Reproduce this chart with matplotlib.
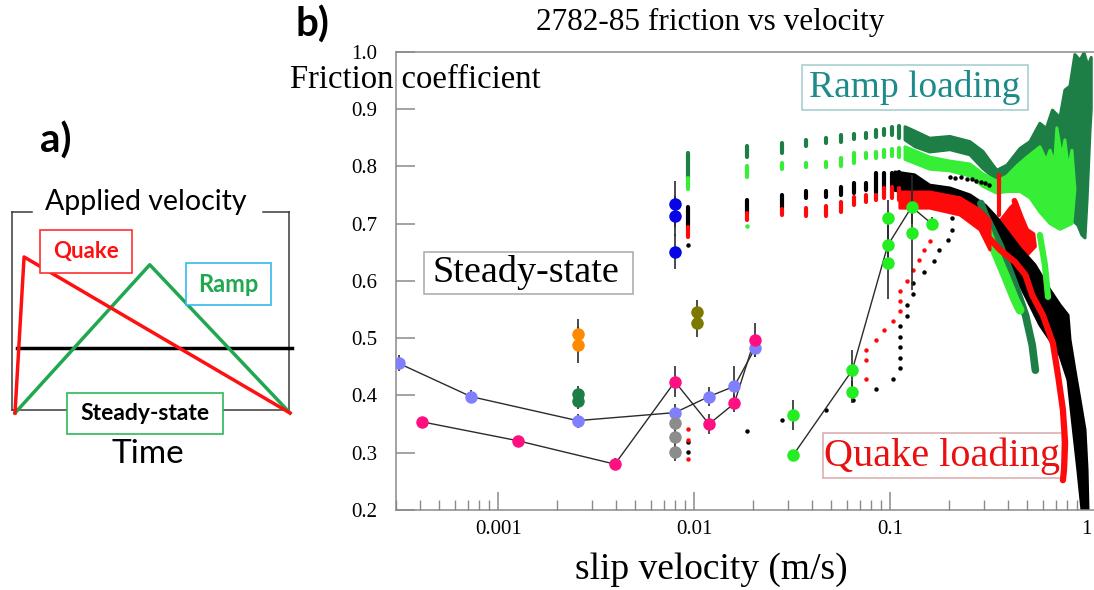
import numpy as np
import matplotlib
matplotlib.use("Agg")
import matplotlib.pyplot as plt
from matplotlib.patches import Rectangle
from matplotlib.ticker import FixedLocator, LogLocator, NullFormatter

W, H = 1094, 590
SERIF = "Liberation Serif"
SANS = "Lato"

# ---------------- panel a: applied velocity histories ----------------
t_quake = [0.0, 0.033, 1.0]
v_quake = [0.0, 1.0, 0.0]
t_ramp = [0.0, 0.49, 1.0]
v_ramp = [0.0, 0.95, 0.0]
t_steady = [0.006, 1.006]
v_steady = [0.417, 0.417]

# ---------------- panel b: friction vs slip velocity ----------------
xtick_vals = [0.001, 0.01, 0.1, 1.0]
xtick_labels = ["0.001", "0.01", "0.1", "1"]
ytick_vals = [0.2, 0.3, 0.4, 0.5, 0.6, 0.7, 0.8, 0.9, 1.0]
ytick_labels = ["0.2", "0.3", "0.4", "0.5", "0.6", "0.7", "0.8", "0.9", "1.0"]

# steady-state velocity sweeps (means with error bars)
ss1_v = [3.11e-4, 7.26e-4, 2.54e-3, 7.97e-3, 0.0119, 0.0160, 0.0204]
ss1_mu = [0.456, 0.398, 0.356, 0.370, 0.398, 0.416, 0.482]
ss1_err = [0.014, 0.011, 0.012, 0.015, 0.017, 0.035, 0.015]

ss2_v = [4.07e-4, 1.256e-3, 3.94e-3, 7.97e-3, 0.0119, 0.0160, 0.0203]
ss2_mu = [0.354, 0.321, 0.280, 0.424, 0.350, 0.386, 0.497]
ss2_err = [0.008, 0.009, 0.010, 0.027, 0.018, 0.015, 0.030]

blue_v = [7.97e-3, 7.97e-3, 7.97e-3]
blue_mu = [0.734, 0.713, 0.651]
blue_err = [0.040, 0.035, 0.031]

orange_v = [2.56e-3, 2.56e-3]
orange_mu = [0.508, 0.488]
orange_err = [0.026, 0.032]

dkg_v = [2.56e-3, 2.56e-3]
dkg_mu = [0.402, 0.391]
dkg_err = [0.015, 0.014]

gray_v = [7.97e-3, 7.97e-3, 7.97e-3]
gray_mu = [0.351, 0.327, 0.302]
gray_err = [0.012, 0.012, 0.016]

olive_v = [0.01028, 0.01028]
olive_mu = [0.546, 0.527]
olive_err = [0.021, 0.025]

gr_v = [0.0320, 0.0320, 0.0640, 0.0640, 0.0971, 0.0971, 0.0971, 0.1285, 0.1285, 0.1625]
gr_mu = [0.366, 0.296, 0.444, 0.406, 0.709, 0.662, 0.632, 0.729, 0.684, 0.700]
gr_err = [0.026, 0.007, 0.035, 0.020, 0.032, 0.035, 0.064, 0.030, 0.100, 0.012]
gr_path = [1, 2, 5, 7, 9]

# velocity-step segments of the loading runs (friction ranges per step)
col_v = [0.00929, 0.01864, 0.0279, 0.0372, 0.0468, 0.0560, 0.0653, 0.0748,
         0.0842, 0.0931, 0.1023, 0.1107]
ramp_dk_lo = [0.779, 0.817, 0.823, 0.835, 0.840, 0.843, 0.847, 0.850, 0.851, 0.854, 0.854, 0.849]
ramp_dk_hi = [0.823, 0.835, 0.840, 0.846, 0.850, 0.854, 0.856, 0.858, 0.863, 0.865, 0.868, 0.870]
ramp_lt_lo = [0.761, 0.782, 0.795, 0.799, 0.799, 0.800, 0.805, 0.814, 0.814, 0.817, 0.818, 0.816]
ramp_lt_hi = [0.779, 0.800, 0.805, 0.805, 0.808, 0.814, 0.823, 0.823, 0.825, 0.828, 0.830, 0.832]
quake_bk_lo = [0.694, 0.718, 0.727, 0.744, 0.747, 0.750, 0.753, 0.758, 0.753, 0.758, 0.764, 0.760]
quake_bk_hi = [0.729, 0.741, 0.750, 0.756, 0.757, 0.764, 0.770, 0.771, 0.788, 0.789, 0.788, 0.790]
quake_rd_lo = [0.677, 0.707, 0.715, 0.713, 0.713, 0.721, 0.732, 0.738, 0.741, 0.745, 0.745, 0.742]
quake_rd_hi = [0.694, 0.718, 0.725, 0.727, 0.731, 0.738, 0.747, 0.750, 0.750, 0.762, 0.764, 0.762]

# isolated samples of the quake runs (acceleration phase)
qb_v = [0.00929, 0.00929, 0.00929, 0.0185, 0.0279, 0.0468, 0.0647, 0.0846, 0.1028,
        0.112, 0.112, 0.112, 0.112, 0.112, 0.1213, 0.1213, 0.1309, 0.1309, 0.1489,
        0.1676, 0.1778, 0.1963, 0.2055, 0.2055,
        0.2017, 0.215, 0.230, 0.245, 0.260, 0.275, 0.290, 0.305, 0.320]
qb_mu = [0.662, 0.319, 0.302, 0.338, 0.357, 0.375, 0.392, 0.411, 0.428,
         0.447, 0.466, 0.484, 0.502, 0.521, 0.539, 0.558, 0.577, 0.596, 0.615,
         0.635, 0.654, 0.671, 0.689, 0.709,
         0.781, 0.779, 0.781, 0.777, 0.778, 0.774, 0.773, 0.770, 0.768]
qr_v = [0.00929, 0.00929, 0.00929, 0.0752, 0.0752, 0.0752, 0.0846, 0.0931, 0.1028,
        0.112, 0.112, 0.112, 0.1213, 0.1309, 0.1406, 0.1489, 0.1594]
qr_mu = [0.341, 0.323, 0.289, 0.428, 0.462, 0.479, 0.497, 0.514, 0.530,
         0.548, 0.565, 0.583, 0.600, 0.619, 0.636, 0.654, 0.669]
rl_v = [0.01864]
rl_mu = [0.696]

# dense high-velocity clouds (outline of each run's scatter)
ramp_dk_cloud_v = [0.119, 0.134, 0.159, 0.2017, 0.255, 0.297, 0.334, 0.350, 0.394, 0.459,
                   0.516, 0.580, 0.625, 0.672, 0.734, 0.778, 0.826, 0.875, 0.929, 0.974,
                   1.02, 1.06,
                   1.06, 1.044, 1.009, 0.985, 0.950,
                   0.906, 0.849, 0.826, 0.734, 0.653, 0.580, 0.516, 0.459, 0.394,
                   0.350, 0.297, 0.255, 0.2017, 0.159, 0.134, 0.119]
ramp_dk_cloud_mu = [0.869, 0.861, 0.849, 0.852, 0.843, 0.826, 0.802, 0.793, 0.802, 0.831,
                    0.843, 0.875, 0.866, 0.898, 0.885, 0.933, 0.940, 0.995, 0.985, 0.998,
                    0.975, 0.990,
                    0.900, 0.860, 0.741, 0.675, 0.680,
                    0.697, 0.706, 0.758, 0.785, 0.802, 0.811, 0.806, 0.790, 0.769,
                    0.776, 0.796, 0.820, 0.829, 0.825, 0.834, 0.846]
ramp_lt_cloud_v = [0.119, 0.159, 0.2017, 0.255, 0.297, 0.350, 0.394, 0.443, 0.498, 0.580,
                   0.625, 0.653, 0.690, 0.708, 0.750, 0.778, 0.810, 0.845, 0.875, 0.845,
                   0.734, 0.653, 0.580, 0.516, 0.459, 0.394, 0.350, 0.297, 0.255,
                   0.2017, 0.159, 0.119]
ramp_lt_cloud_mu = [0.834, 0.816, 0.809, 0.804, 0.787, 0.774, 0.783, 0.801, 0.816, 0.834,
                    0.810, 0.828, 0.805, 0.867, 0.815, 0.846, 0.795, 0.828, 0.760, 0.700,
                    0.690, 0.700, 0.720, 0.745, 0.756, 0.756, 0.753, 0.765, 0.783,
                    0.792, 0.795, 0.812]
quake_bk_cloud_v = [0.1057, 0.133, 0.159, 0.2017, 0.255, 0.305, 0.350, 0.408, 0.459, 0.547,
                    0.653, 0.734, 0.807, 0.826, 0.875, 0.929, 0.985, 1.009, 1.02,
                    0.951, 0.906, 0.849, 0.807, 0.734, 0.653, 0.580, 0.516, 0.459,
                    0.408, 0.363, 0.3227, 0.270, 0.2268, 0.1793, 0.1417, 0.1057]
quake_bk_cloud_mu = [0.790, 0.785, 0.767, 0.762, 0.750, 0.732, 0.710, 0.680, 0.657, 0.628,
                     0.584, 0.558, 0.540, 0.497, 0.444, 0.392, 0.340, 0.270, 0.200,
                     0.200, 0.270, 0.357, 0.427, 0.470, 0.497, 0.523, 0.558, 0.593,
                     0.628, 0.657, 0.685, 0.710, 0.727, 0.741, 0.750, 0.758]
quake_rd_cloud_v = [0.112, 0.159, 0.2268, 0.287, 0.3227, 0.3227, 0.287, 0.2268, 0.159, 0.112]
quake_rd_cloud_mu = [0.755, 0.755, 0.745, 0.724, 0.706, 0.654, 0.689, 0.715, 0.727, 0.727]
quake_rd_mid_v = [0.34, 0.37, 0.41, 0.44, 0.47, 0.50, 0.54, 0.55,
                  0.50, 0.45, 0.40, 0.36]
quake_rd_mid_mu = [0.700, 0.708, 0.728, 0.738, 0.712, 0.690, 0.682, 0.660,
                   0.645, 0.660, 0.670, 0.680]

# descending branches at the highest slip rates
rd_tail_v = [0.30, 0.363, 0.433, 0.49, 0.53, 0.601, 0.676, 0.72, 0.76, 0.78, 0.77, 0.76]
rd_tail_mu = [0.685, 0.654, 0.633, 0.610, 0.575, 0.540, 0.491, 0.432, 0.375, 0.317, 0.270, 0.252]
dk_arm_v = [0.29, 0.305, 0.363, 0.433, 0.49, 0.53, 0.55]
dk_arm_mu = [0.735, 0.715, 0.662, 0.593, 0.540, 0.488, 0.444]
lt_arm_v = [0.305, 0.34, 0.385, 0.433, 0.459]
lt_arm_mu = [0.697, 0.654, 0.610, 0.567, 0.549]
lt_arm2_v = [0.58, 0.615, 0.638]
lt_arm2_mu = [0.680, 0.628, 0.572]
rd_spikes_v = [[0.359, 0.359], [0.43, 0.45]]
rd_spikes_mu = [[0.785, 0.715], [0.740, 0.710]]

C_DKG = "#1d7f45"
C_LTG = "#35ee35"
C_RED = "#ff0a0a"
C_BLK = "#000000"


def fx(px):
    return px / W


def fy(py):
    return 1 - py / H


fig = plt.figure(figsize=(W / 100, H / 100), dpi=100)

# ======================= panel a =======================
axa = fig.add_axes([fx(12.3), fy(410), fx(289) - fx(12.3), fy(211.7) - fy(410)])
axa.set_xlim(-0.0098, 0.9964)
axa.set_ylim(0.0192, 1.290)
axa.axis("off")
frame_kw = dict(transform=axa.transAxes, color="#3a3a3a", lw=1.1, clip_on=False)
axa.plot([0, 0], [0, 1], **frame_kw)
axa.plot([1, 1], [0, 1], **frame_kw)
axa.plot([0, 0.070], [1, 1], **frame_kw)
axa.plot([0.906, 1], [1, 1], **frame_kw)
axa.plot([0, 1], [0, 0], **frame_kw)
axa.plot(t_steady, v_steady, color="black", lw=2.5, clip_on=False, zorder=3)
axa.plot(t_ramp, v_ramp, color="#1fa84f", lw=2.5, clip_on=False, zorder=4)
axa.plot(t_quake, v_quake, color="#ff1010", lw=2.5, clip_on=False, zorder=5)


def fig_box(x0, y0, x1, y1, ec, lw=1.2):
    r = Rectangle((fx(x0), fy(y1)), fx(x1) - fx(x0), fy(y0) - fy(y1),
                  transform=fig.transFigure, facecolor="white", edgecolor=ec,
                  lw=lw, zorder=5)
    fig.add_artist(r)


fig_box(40, 230, 131.7, 272.7, "#ff3030")
fig.text(fx(86), fy(251.5), "Quake", color="#ff1010", fontsize=16,
         fontweight="bold", family=SANS, ha="center", va="center", zorder=6)
fig_box(185.7, 262.7, 271, 305, "#35b8ee")
fig.text(fx(228.3), fy(284), "Ramp", color="#1fa84f", fontsize=17,
         fontweight="bold", family=SANS, ha="center", va="center", zorder=6)
fig_box(67, 392.7, 222.7, 434, "#2fb85a")
fig.text(fx(144.5), fy(413.5), "Steady-state", color="black", fontsize=16.5,
         fontweight="bold", family=SANS, ha="center", va="center", zorder=6)
fig.text(fx(145.5), fy(202), "Applied velocity", color="black", fontsize=20.5,
         family=SANS, ha="center", va="center")
fig.text(fx(148), fy(454), "Time", color="black", fontsize=24,
         family=SANS, ha="center", va="center")
fig.text(fx(56), fy(141), "a)", color="black", fontsize=29, fontweight="bold",
         family=SANS, ha="center", va="center")
fig.text(fx(312), fy(25), "b)", color="black", fontsize=29, fontweight="bold",
         family=SANS, ha="center", va="center")

# ======================= panel b =======================
ax = fig.add_axes([fx(395.7), fy(510), (W - 395.7) / W, (510 - 51.7) / H])
ax.set_xscale("log")
ax.set_xlim(3e-4, 1.095)
ax.set_ylim(0.2, 1.0)
ax.spines["right"].set_visible(False)
for s in ["left", "bottom", "top"]:
    ax.spines[s].set_color("#8a8a8a")
    ax.spines[s].set_linewidth(1.1)
ax.xaxis.set_major_locator(FixedLocator(xtick_vals))
ax.xaxis.set_minor_locator(LogLocator(base=10, subs=np.arange(2, 10), numticks=50))
ax.xaxis.set_minor_formatter(NullFormatter())
ax.set_xticks(xtick_vals)
ax.set_xticklabels(xtick_labels, family=SERIF)
ax.set_yticks(ytick_vals)
ax.set_yticklabels(ytick_labels, family=SERIF)
ax.tick_params(axis="both", which="both", direction="in", color="#8a8a8a",
               top=False, right=False)
ax.tick_params(axis="x", which="major", length=13, width=1.1, pad=7, labelsize=15)
ax.tick_params(axis="x", which="minor", length=7, width=1.0)
ax.tick_params(axis="y", which="major", length=14, width=1.1, pad=13.5, labelsize=15)
ax.tick_params(axis="y", which="minor", left=False)

# dense clouds
cloud_kw = dict(lw=2.2, joinstyle="round")
ax.fill(ramp_dk_cloud_v, ramp_dk_cloud_mu, color=C_DKG, zorder=1, **cloud_kw)
ax.fill(ramp_lt_cloud_v, ramp_lt_cloud_mu, color=C_LTG, zorder=1.5, **cloud_kw)
ax.fill(quake_rd_mid_v, quake_rd_mid_mu, color=C_RED, zorder=1.9, **cloud_kw)
ax.fill(quake_bk_cloud_v, quake_bk_cloud_mu, color=C_BLK, zorder=2, **cloud_kw)
ax.plot(dk_arm_v, dk_arm_mu, color=C_DKG, lw=5.5, solid_capstyle="round", zorder=2.5)
ax.plot(lt_arm_v, lt_arm_mu, color=C_LTG, lw=6.5, solid_capstyle="round", zorder=2.6)
ax.plot(lt_arm2_v, lt_arm2_mu, color=C_LTG, lw=4.5, solid_capstyle="round", zorder=2.6)
ax.fill(quake_rd_cloud_v, quake_rd_cloud_mu, color=C_RED, zorder=3, **cloud_kw)
ax.plot(rd_tail_v, rd_tail_mu, color=C_RED, lw=4.5, solid_capstyle="round", zorder=3)
for sv, smu, w in zip(rd_spikes_v, rd_spikes_mu, [3.0, 4.0]):
    ax.plot(sv, smu, color=C_RED, lw=w, solid_capstyle="round", zorder=3)

# velocity-step segments
seg_kw = dict(lw=3.0, capstyle="round", zorder=3.5)
ax.vlines(col_v, ramp_dk_lo, ramp_dk_hi, colors=C_DKG, **seg_kw)
ax.vlines(col_v, ramp_lt_lo, ramp_lt_hi, colors=C_LTG, **seg_kw)
ax.vlines(col_v, quake_bk_lo, quake_bk_hi, colors=C_BLK, **seg_kw)
ax.vlines(col_v, quake_rd_lo, quake_rd_hi, colors=C_RED, **seg_kw)

ax.plot(qb_v, qb_mu, "o", color=C_BLK, ms=3.2, mew=0, zorder=4)
ax.plot(qr_v, qr_mu, "o", color=C_RED, ms=3.2, mew=0, zorder=4)
ax.plot(rl_v, rl_mu, "o", color=C_LTG, ms=3.2, mew=0, zorder=4)

# connecting lines of the steady-state sweeps
line_kw = dict(color="#2b2b2b", lw=1.0, zorder=5)
ax.plot(ss1_v, ss1_mu, **line_kw)
ax.plot(ss2_v, ss2_mu, **line_kw)
ax.plot([gr_v[i] for i in gr_path], [gr_mu[i] for i in gr_path], **line_kw)

eb_kw = dict(fmt="o", ms=9, mew=0, ecolor="#2b2b2b", elinewidth=1.2,
             capsize=4.8, capthick=1.2, zorder=6)
for vv, mm, ee, cc in [(ss1_v, ss1_mu, ss1_err, "#8080ff"),
                       (ss2_v, ss2_mu, ss2_err, "#ff0f80"),
                       (blue_v, blue_mu, blue_err, "#0505e6"),
                       (orange_v, orange_mu, orange_err, "#ff8a00"),
                       (dkg_v, dkg_mu, dkg_err, "#1d7f45"),
                       (gray_v, gray_mu, gray_err, "#8c8c8c"),
                       (olive_v, olive_mu, olive_err, "#7d7800"),
                       (gr_v, gr_mu, gr_err, "#22ee22")]:
    ax.errorbar(vv, mm, yerr=ee, color=cc, **eb_kw)


def ax_box(x0, y0, x1, y1, ec, z):
    r = Rectangle((fx(x0), fy(y1)), fx(x1) - fx(x0), fy(y0) - fy(y1),
                  transform=fig.transFigure, facecolor="white", edgecolor=ec,
                  lw=1.1, zorder=z, clip_on=False)
    ax.add_patch(r)


ax_box(424, 251.7, 632.7, 294.3, "#a8a8a8", 7)
ax.text(fx(526), fy(273), "Steady-state", transform=fig.transFigure,
        fontsize=27.5, family=SERIF, ha="center", va="center", zorder=8)
ax_box(801.7, 65, 1028, 110, "#9fcccc", 7)
ax.text(fx(915), fy(87.5), "Ramp loading", transform=fig.transFigure, color="#1e8a8a",
        fontsize=27, family=SERIF, ha="center", va="center", zorder=8)
ax_box(823.3, 433.3, 1061.7, 478.3, "#d8aaaa", 2.9)
ax.text(fx(942.5), fy(456), "Quake loading", transform=fig.transFigure, color="#e81010",
        fontsize=29, family=SERIF, ha="center", va="center", zorder=2.95)

fig.text(fx(710), fy(22), "2782-85 friction vs velocity", fontsize=22.5,
         family=SERIF, ha="center", va="center")
fig.text(fx(290), fy(80), "Friction coefficient", fontsize=23.5,
         family=SERIF, ha="left", va="center")
fig.text(fx(711), fy(570), "slip velocity (m/s)", fontsize=27,
         family=SERIF, ha="center", va="center")

fig.savefig("out.png", dpi=100)
